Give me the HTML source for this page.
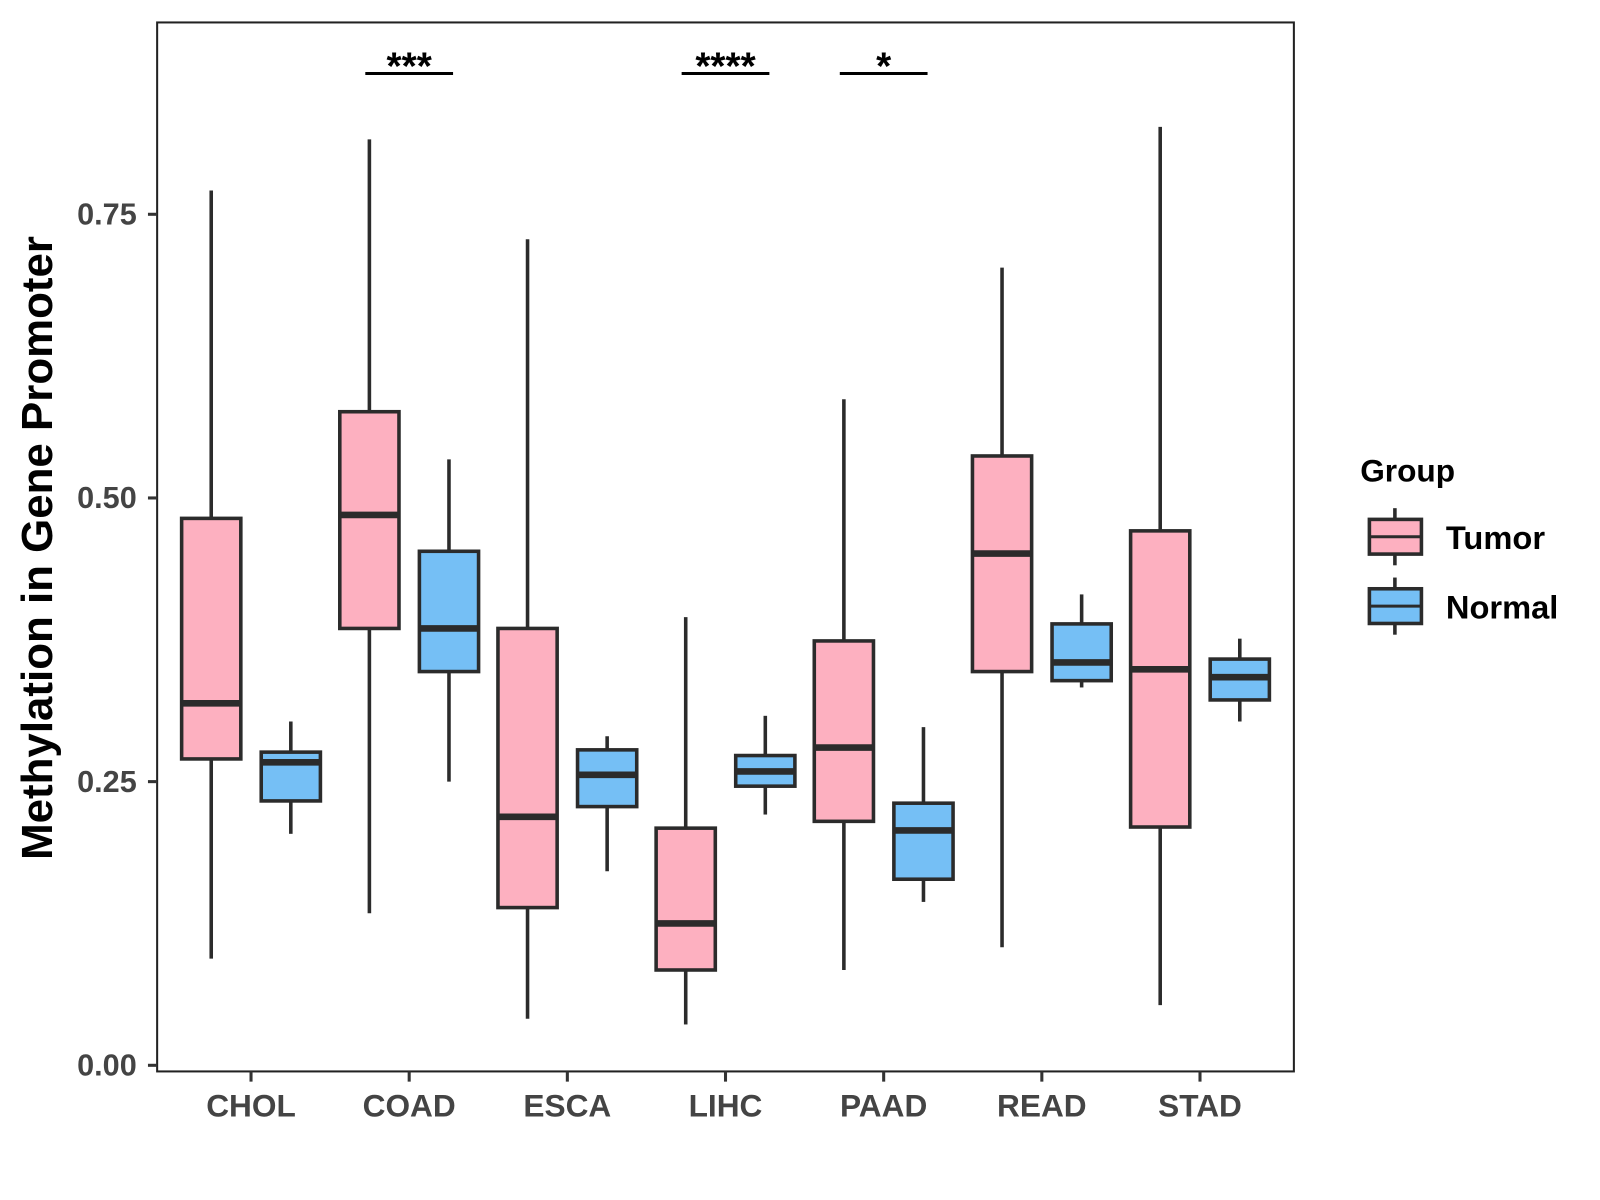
<!DOCTYPE html>
<html><head><meta charset="utf-8"><style>
html,body{margin:0;padding:0;background:#fff;}
svg{display:block;font-family:"Liberation Sans",Arial,sans-serif;}
</style></head><body>
<svg id="chart" width="1600" height="1200" viewBox="0 0 1568 1176" xmlns="http://www.w3.org/2000/svg">
<rect x="0" y="0" width="1568" height="1176" fill="#fff"/>
<g id="plot"></g>
<g id="axes"></g>
<g>
<text x="1333" y="472" font-size="31" font-weight="bold">Group</text>
<g>
<line x1="1367" y1="498" x2="1367" y2="554" stroke="#2b2b2b" stroke-width="3.5"/>
<rect x="1342" y="509" width="51" height="34" fill="#FDB0C0" stroke="#2b2b2b" stroke-width="3.5"/>
<line x1="1342" y1="526" x2="1393" y2="526" stroke="#2b2b2b" stroke-width="3"/>
<text x="1417" y="538" font-size="32" font-weight="bold">Tumor</text>
</g>
<g>
<line x1="1367" y1="566" x2="1367" y2="622" stroke="#2b2b2b" stroke-width="3.5"/>
<rect x="1342" y="577" width="51" height="34" fill="#75BFF5" stroke="#2b2b2b" stroke-width="3.5"/>
<line x1="1342" y1="594" x2="1393" y2="594" stroke="#2b2b2b" stroke-width="3"/>
<text x="1417" y="606" font-size="32" font-weight="bold">Normal</text>
</g>
</g>
<text transform="translate(51,537) rotate(-90)" text-anchor="middle" font-size="43" font-weight="bold">Methylation in Gene Promoter</text>
</svg>
<script>
const categories = ["CHOL","COAD","ESCA","LIHC","PAAD","READ","STAD"];
const tumorMin = [0.094,0.134,0.041,0.036,0.084,0.104,0.053];
const tumorQ1  = [0.270,0.385,0.139,0.084,0.215,0.347,0.210];
const tumorMed = [0.319,0.485,0.219,0.125,0.280,0.451,0.349];
const tumorQ3  = [0.482,0.576,0.385,0.209,0.374,0.537,0.471];
const tumorMax = [0.771,0.816,0.728,0.395,0.587,0.703,0.827];
const normalMin = [0.204,0.250,0.171,0.221,0.144,0.333,0.303];
const normalQ1  = [0.233,0.347,0.228,0.246,0.164,0.339,0.322];
const normalMed = [0.267,0.385,0.256,0.259,0.207,0.355,0.342];
const normalQ3  = [0.276,0.453,0.278,0.273,0.231,0.389,0.358];
const normalMax = [0.303,0.534,0.290,0.308,0.298,0.415,0.376];
const yTicks = [0,0.25,0.5,0.75];
const yTickLabels = ["0.00","0.25","0.50","0.75"];
const sigCategories = ["COAD","LIHC","PAAD"];
const sigLabels = ["***","****","*"];

const NS="http://www.w3.org/2000/svg";
const L=154,T=22,R=1268,B=1050;
const yScale=v=>1044-v*1112;
const xScale=i=>246+i*155;
function mk(tag,attrs,parent){const e=document.createElementNS(NS,tag);for(const k in attrs)e.setAttribute(k,attrs[k]);parent.appendChild(e);return e;}
const plot=document.getElementById('plot');
const axes=document.getElementById('axes');

function box(cx,mn,q1,md,q3,mx,fill,name){
  const g=mk('g',{},plot);
  
  
  mk('line',{x1:cx,x2:cx,y1:yScale(mx),y2:yScale(q3),stroke:'#2b2b2b','stroke-width':3.5},g);
  mk('line',{x1:cx,x2:cx,y1:yScale(q1),y2:yScale(mn),stroke:'#2b2b2b','stroke-width':3.5},g);
  mk('rect',{x:cx-29,y:yScale(q3),width:58,height:yScale(q1)-yScale(q3),fill:fill,stroke:'#2b2b2b','stroke-width':3.5},g);
  mk('line',{x1:cx-29,x2:cx+29,y1:yScale(md),y2:yScale(md),stroke:'#2b2b2b','stroke-width':6.5},g);
}
categories.forEach((c,i)=>{
  box(xScale(i)-39,tumorMin[i],tumorQ1[i],tumorMed[i],tumorQ3[i],tumorMax[i],'#FDB0C0','box-tumor-'+c.toLowerCase());
  box(xScale(i)+39,normalMin[i],normalQ1[i],normalMed[i],normalQ3[i],normalMax[i],'#75BFF5','box-normal-'+c.toLowerCase());
});
sigCategories.forEach((c,k)=>{
  const i=categories.indexOf(c);
  const g=mk('g',{},plot);
  
  
  mk('line',{x1:xScale(i)-43,x2:xScale(i)+43,y1:72,y2:72,stroke:'#000','stroke-width':3},g);
  const t=mk('text',{x:xScale(i),y:78,'text-anchor':'middle','font-size':38,'font-weight':'bold'},g);
  t.textContent=sigLabels[k];
});
const frame=mk('rect',{x:L,y:T,width:R-L,height:B-T,fill:'none',stroke:'#222','stroke-width':2},axes);


yTicks.forEach((v,k)=>{
  const g=mk('g',{},axes);
  
  
  mk('line',{x1:145,x2:L,y1:yScale(v),y2:yScale(v),stroke:'#333','stroke-width':3},g);
  const t=mk('text',{x:134,y:yScale(v)+10,'text-anchor':'end','font-size':30,'font-weight':'bold',fill:'#444'},g);
  t.textContent=yTickLabels[k];
});
categories.forEach((c,i)=>{
  const g=mk('g',{},axes);
  
  
  mk('line',{x1:xScale(i),x2:xScale(i),y1:B,y2:B+10,stroke:'#333','stroke-width':3},g);
  const t=mk('text',{x:xScale(i),y:1094,'text-anchor':'middle','font-size':31,'font-weight':'bold',fill:'#444'},g);
  t.textContent=c;
});
</script>
</body></html>
